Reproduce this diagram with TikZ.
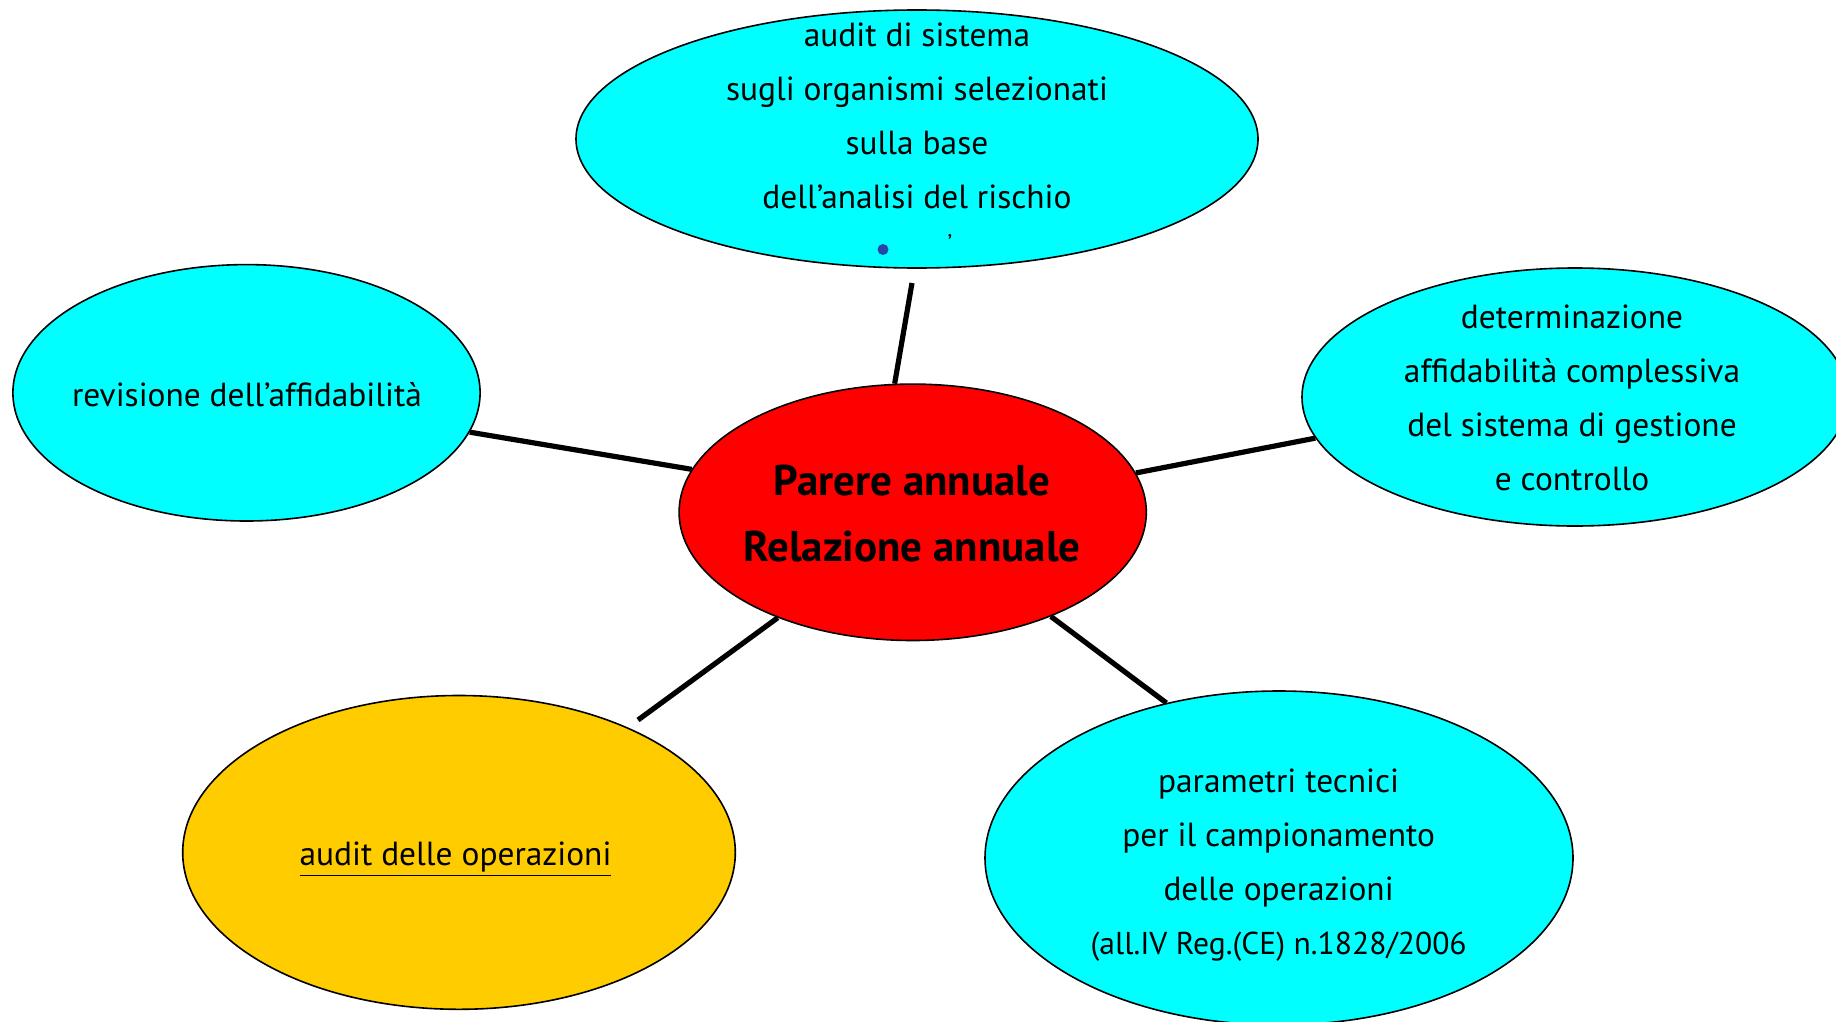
\documentclass[tikz,border=0pt]{standalone}
\usepackage{fontspec}
\setmainfont{PT Sans}
\usetikzlibrary{shapes.geometric}
\definecolor{cyanF}{RGB}{0,255,255}
\definecolor{redF}{RGB}{255,0,0}
\definecolor{goldF}{RGB}{255,204,0}
\definecolor{dotblue}{RGB}{40,70,170}
\begin{document}
\begin{tikzpicture}[x=0.5pt,y=-0.5pt,
  bubble/.style={ellipse, draw=black, line width=0.8pt, inner sep=0pt},
  link/.style={line width=2.6pt, black},
  txt/.style={align=center, font=\fontsize{16.7}{27}\selectfont, inner sep=0pt}]
\useasboundingbox (0,0) rectangle (1836,1022);
% ellipses
\node[bubble, fill=cyanF, minimum width=341pt, minimum height=129pt] (sys) at (917,139) {};
\node[bubble, fill=cyanF, minimum width=233.6pt, minimum height=128.2pt] (rev) at (246.5,392.8) {};
\node[bubble, fill=redF, minimum width=233.6pt, minimum height=128.2pt] (ctr) at (912.7,512.3) {};
\node[bubble, fill=cyanF, minimum width=273pt, minimum height=129pt] (det) at (1575,397) {};
\node[bubble, fill=goldF, minimum width=276.3pt, minimum height=156.9pt] (ops) at (459,852.4) {};
\node[bubble, fill=cyanF, minimum width=294pt, minimum height=167pt] (par) at (1279,858) {};
% texts
\node[txt] (sysT) at (917,116) {audit di sistema\\sugli organismi selezionati\\sulla base\\dell’analisi del rischio};
\node[circle, fill=dotblue, inner sep=0pt, minimum size=5.5pt] (dot) at (883,249.5) {};
\node[txt, font=\fontsize{12}{12}\selectfont] (apo) at (950,243) {’};
\node[txt] (revT) at (247,395) {revisione dell’affidabilità};
\node[txt, font=\fontsize{21.5}{33}\selectfont\bfseries] (ctrT) at (912,514) {Parere annuale\\Relazione annuale};
\node[txt] (detT) at (1572,398) {determinazione\\affidabilità complessiva\\del sistema di gestione\\e controllo};
\node[txt] (opsT) at (455.5,859) {\underline{audit delle operazioni}};
\node[txt] (parT) at (1278.6,865) {parametri tecnici\\per il campionamento\\delle operazioni\\{\fontsize{15.8}{25}\selectfont (all.IV Reg.(CE) n.1828/2006}};
% connectors
\coordinate (sysE) at (912,283);
\coordinate (opsE) at (638,720);
\draw[link] (sysE) -- (ctr.98);
\draw[link] (rev.-10) -- (ctr.169.6);
\draw[link] (ctr.10.6) -- (det.189.3);
\draw[link] (ctr.-142.5) -- (opsE);
\draw[link] (ctr.-37.3) -- (par.126);
\end{tikzpicture}
\end{document}
